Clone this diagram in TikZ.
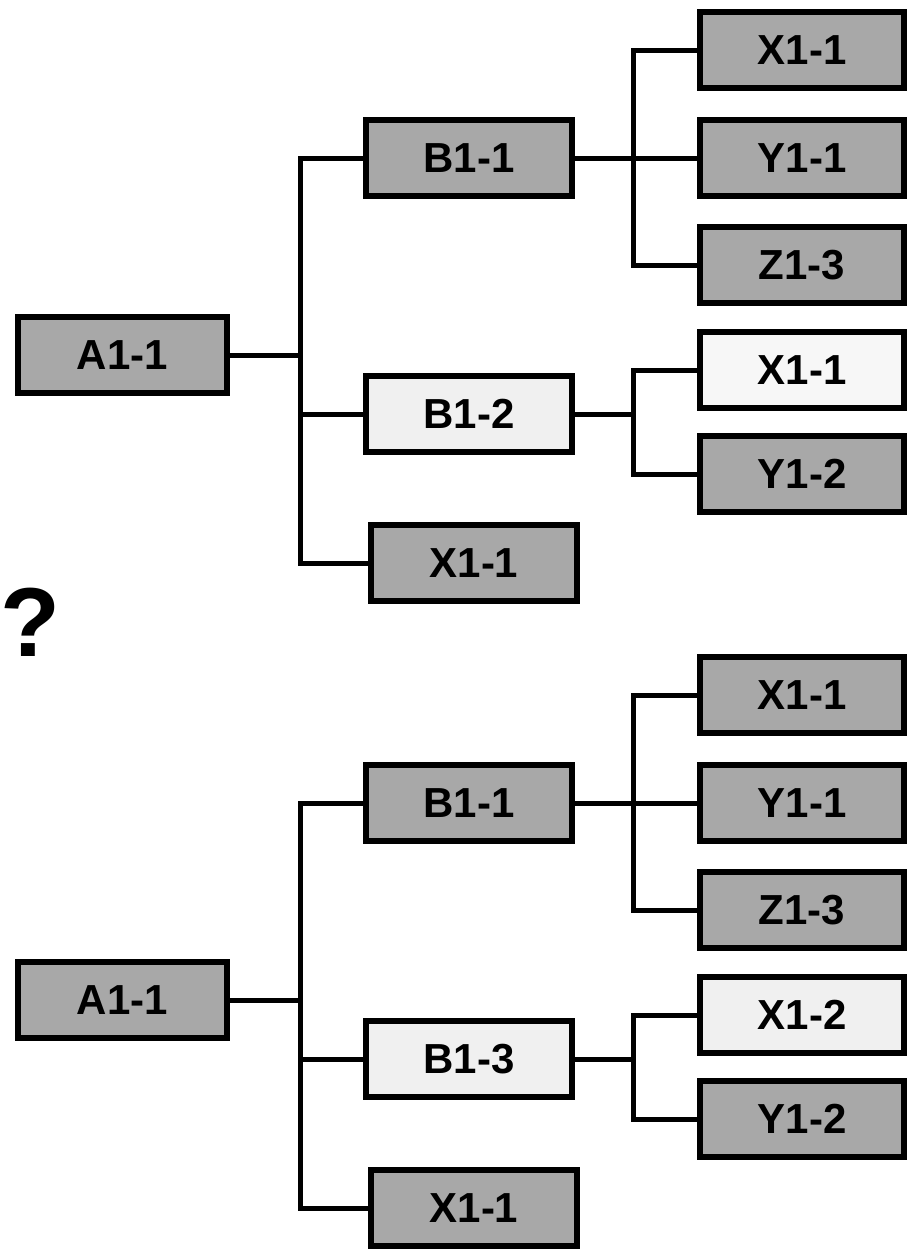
\documentclass[tikz,border=0pt]{standalone}
\usepackage{fontspec}
\setmainfont{Liberation Sans}
\definecolor{darkbox}{gray}{0.66}
\definecolor{lightbox}{gray}{0.94}
\definecolor{paleboxtwo}{gray}{0.97}
\tikzset{
  boxbase/.style={draw=black, line width=6.5pt, inner sep=0pt, minimum height=76pt,
    font=\fontsize{42}{50}\selectfont\bfseries, text=black},
  darkb/.style={boxbase, fill=darkbox},
  lightb/.style={boxbase, fill=lightbox},
  paleb/.style={boxbase, fill=paleboxtwo},
  wa/.style={minimum width=209pt},
  wb/.style={minimum width=206pt},
  wc/.style={minimum width=204pt},
  conn/.style={line width=5pt, line join=miter, line cap=rect}
}
\begin{document}
\begin{tikzpicture}[x=1pt,y=-1pt]
\useasboundingbox (0,0) rectangle (910,1251);
% ---------- top tree ----------
\node[darkb,wa] (a1) at (122.5,355) {A1-1};
\node[darkb,wb] (b11) at (469,158) {B1-1};
\node[lightb,wb] (b12) at (469,414) {B1-2};
\node[darkb,wb] (x1m) at (474,563) {X1-1};
\node[darkb,wc] (rx11) at (802,50) {X1-1};
\node[darkb,wc] (ry11) at (802,158) {Y1-1};
\node[darkb,wc] (rz13) at (802,265) {Z1-3};
\node[paleb,wc] (rx11w) at (802,370) {X1-1};
\node[darkb,wc] (ry12) at (802,474) {Y1-2};
\coordinate (jA) at (300,355);
\coordinate (jB) at (633,158);
\coordinate (jC) at (633,414);
\draw[conn] (b11.west) -| (jA) |- (x1m.west);
\draw[conn] (a1.east) -- (jA);
\draw[conn] (jA |- b12.west) -- (b12.west);
\draw[conn] (rx11.west) -| (jB) |- (rz13.west);
\draw[conn] (b11.east) -- (ry11.west);
\draw[conn] (rx11w.west) -| (jC) |- (ry12.west);
\draw[conn] (b12.east) -- (jC);
% ---------- question mark ----------
\node[inner sep=0pt, anchor=west, font=\fontsize{98}{108}\selectfont\bfseries] (q) at (0.5,622) {?};
% ---------- bottom tree ----------
\node[darkb,wa] (a2) at (122.5,1000) {A1-1};
\node[darkb,wb] (c11) at (469,803) {B1-1};
\node[lightb,wb] (c13) at (469,1059) {B1-3};
\node[darkb,wb] (x2m) at (474,1208) {X1-1};
\node[darkb,wc] (sx11) at (802,695) {X1-1};
\node[darkb,wc] (sy11) at (802,803) {Y1-1};
\node[darkb,wc] (sz13) at (802,910) {Z1-3};
\node[lightb,wc] (sx12) at (802,1015) {X1-2};
\node[darkb,wc] (sy12) at (802,1119) {Y1-2};
\coordinate (kA) at (300,1000);
\coordinate (kB) at (633,803);
\coordinate (kC) at (633,1059);
\draw[conn] (c11.west) -| (kA) |- (x2m.west);
\draw[conn] (a2.east) -- (kA);
\draw[conn] (kA |- c13.west) -- (c13.west);
\draw[conn] (sx11.west) -| (kB) |- (sz13.west);
\draw[conn] (c11.east) -- (sy11.west);
\draw[conn] (sx12.west) -| (kC) |- (sy12.west);
\draw[conn] (c13.east) -- (kC);
\end{tikzpicture}
\end{document}
